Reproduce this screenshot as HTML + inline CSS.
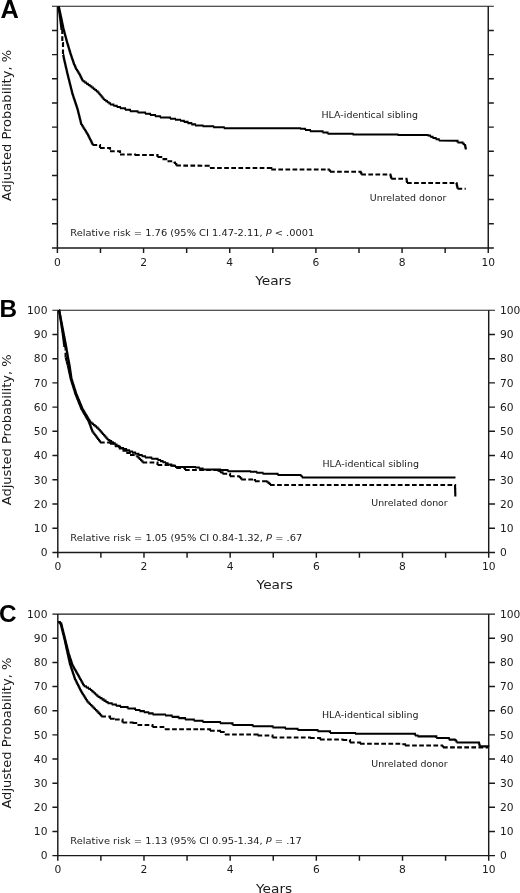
<!DOCTYPE html>
<html lang="en"><head><meta charset="utf-8"><title>Adjusted probability curves</title>
<style>html,body{margin:0;padding:0;background:#fff}body{width:520px;height:893px;overflow:hidden}svg{display:block}text{font-family:'DejaVu Sans','Liberation Sans',sans-serif;fill:#1a1a1a}.t{font-size:10.3px}.a{font-size:9.5px}.y{font-size:12.3px}.L{font-family:'Liberation Sans',sans-serif;font-weight:bold;font-size:24.3px;fill:#000}.ax{stroke:#1a1a1a;stroke-width:1.45;fill:none}.c{stroke:#000;stroke-width:2.15;fill:none;stroke-linejoin:miter}.d{stroke-dasharray:4.7 2.4}</style></head><body>
<svg width="520" height="893" viewBox="0 0 520 893">
<rect width="520" height="893" fill="#fff"/>
<g><!-- panel A -->
<path class="ax" style="stroke-width:1.1" d="M52.00,6.30H493.85"/>
<path class="ax" d="M52.00,247.90H493.85M57.40,6.30V247.90M488.25,6.30V253.10M52.00,30.46H57.40M488.25,30.46H493.85M52.00,54.62H57.40M488.25,54.62H493.85M52.00,78.78H57.40M488.25,78.78H493.85M52.00,102.94H57.40M488.25,102.94H493.85M52.00,127.10H57.40M488.25,127.10H493.85M52.00,151.26H57.40M488.25,151.26H493.85M52.00,175.42H57.40M488.25,175.42H493.85M52.00,199.58H57.40M488.25,199.58H493.85M52.00,223.74H57.40M488.25,223.74H493.85M57.40,247.90V253.10M100.48,247.90V253.10M143.57,247.90V253.10M186.66,247.90V253.10M229.74,247.90V253.10M272.82,247.90V253.10M315.91,247.90V253.10M359.00,247.90V253.10M402.08,247.90V253.10M445.16,247.90V253.10"/>
<text class="t" transform="translate(57.4,265.6) scale(1.04,1)" text-anchor="middle">0</text>
<text class="t" transform="translate(143.6,265.6) scale(1.04,1)" text-anchor="middle">2</text>
<text class="t" transform="translate(229.7,265.6) scale(1.04,1)" text-anchor="middle">4</text>
<text class="t" transform="translate(315.9,265.6) scale(1.04,1)" text-anchor="middle">6</text>
<text class="t" transform="translate(402.1,265.6) scale(1.04,1)" text-anchor="middle">8</text>
<text class="t" transform="translate(488.2,265.6) scale(1.04,1)" text-anchor="middle">10</text>
<text class="y" transform="translate(10.7,200.9) rotate(-90)" textLength="151" lengthAdjust="spacingAndGlyphs">Adjusted Probability, %</text>
<text class="y" x="255.2" y="284.8" textLength="36.2" lengthAdjust="spacingAndGlyphs">Years</text>
<text class="L" style="font-size:25.4px" x="0.6" y="17.9">A</text>
<path class="c d" d="M58.50,7.00h0.17v1.22M58.67,8.22h0.17v1.22M58.83,9.44h0.17v1.22M59.00,10.67h0.17v1.22M59.17,11.89h0.17v1.22M59.33,13.11h0.17v1.22M59.50,14.33h0.17v1.22M59.67,15.56h0.17v1.22M59.83,16.78h0.17v1.22M60.00,18.00h0.15v1.20M60.15,19.20h0.15v1.20M60.30,20.40h0.15v1.20M60.45,21.60h0.15v1.20M60.60,22.80h0.15v1.20M60.75,24.00h0.15v1.20M60.90,25.20h0.15v1.20M61.05,26.40h0.15v1.20M61.20,27.60h0.15v1.20M61.35,28.80h0.15v1.20M61.50,30.00h0.80v13.00M62.30,43.00h0.70v12.00M63.00,55.00h0.25v1.17M63.25,56.17h0.25v1.17M63.50,57.33h0.25v1.17M63.75,58.50h0.25v1.17M64.00,59.67h0.25v1.17M64.25,60.83h0.25v1.17M64.50,62.00h0.27v1.18M64.77,63.18h0.27v1.18M65.05,64.36h0.27v1.18M65.32,65.55h0.27v1.18M65.59,66.73h0.27v1.18M65.86,67.91h0.27v1.18M66.14,69.09h0.27v1.18M66.41,70.27h0.27v1.18M66.68,71.45h0.27v1.18M66.95,72.64h0.27v1.18M67.23,73.82h0.27v1.18M67.50,75.00h0.31v1.25M67.81,76.25h0.31v1.25M68.12,77.50h0.31v1.25M68.44,78.75h0.31v1.25M68.75,80.00h0.31v1.25M69.06,81.25h0.31v1.25M69.38,82.50h0.31v1.25M69.69,83.75h0.31v1.25M70.00,85.00h0.31v1.25M70.31,86.25h0.31v1.25M70.62,87.50h0.31v1.25M70.94,88.75h0.31v1.25M71.25,90.00h0.31v1.25M71.56,91.25h0.31v1.25M71.88,92.50h0.31v1.25M72.19,93.75h0.31v1.25M72.50,95.00h0.42v1.25M72.92,96.25h0.42v1.25M73.33,97.50h0.42v1.25M73.75,98.75h0.42v1.25M74.17,100.00h0.42v1.25M74.58,101.25h0.42v1.25M75.00,102.50h0.42v1.25M75.42,103.75h0.42v1.25M75.83,105.00h0.42v1.25M76.25,106.25h0.42v1.25M76.67,107.50h0.42v1.25M77.08,108.75h0.42v1.25M77.50,110.00h0.31v1.25M77.81,111.25h0.31v1.25M78.12,112.50h0.31v1.25M78.44,113.75h0.31v1.25M78.75,115.00h0.31v1.25M79.06,116.25h0.31v1.25M79.38,117.50h0.31v1.25M79.69,118.75h0.31v1.25M80.00,120.00h0.31v1.25M80.31,121.25h0.31v1.25M80.62,122.50h0.31v1.25M80.94,123.75h0.31v1.25M81.25,125.00h0.78v1.25M82.03,126.25h0.78v1.25M82.81,127.50h0.78v1.25M83.59,128.75h0.78v1.25M84.38,130.00h0.78v1.25M85.16,131.25h0.78v1.25M85.94,132.50h0.78v1.25M86.72,133.75h0.78v1.25M87.50,135.00h0.62v1.25M88.12,136.25h0.62v1.25M88.75,137.50h0.62v1.25M89.38,138.75h0.62v1.25M90.00,140.00h0.62v1.25M90.62,141.25h0.62v1.25M91.25,142.50h0.62v1.25M91.88,143.75h0.62v1.25M92.50,145.00h7.50v3.00M100.00,148.00h10.00v3.25M110.00,151.25h10.00v3.25M120.00,154.50h15.00v0.50M135.00,155.00h22.50v2.00M157.50,157.00h5.00v2.12M162.50,159.12h5.00v2.12M167.50,161.25h6.25v1.25M173.75,162.50h1.25v1.50M175.00,164.00h1.25v1.50M176.25,165.50L205.00,165.75M205.00,165.75h5.00v2.25M210.00,168.00L267.50,168.00M267.50,168.00h3.75v1.50M271.25,169.50L327.50,169.50M327.50,169.50h1.25v1.12M328.75,170.62h1.25v1.12M330.00,171.75L360.00,171.75M360.00,171.75h0.62v1.38M360.62,173.12h0.62v1.38M361.25,174.50L390.00,174.50M390.00,174.50h0.31v1.06M390.31,175.56h0.31v1.06M390.62,176.62h0.31v1.06M390.94,177.69h0.31v1.06M391.25,178.75L406.25,178.75M406.25,178.75h0.19v1.06M406.44,179.81h0.19v1.06M406.62,180.88h0.19v1.06M406.81,181.94h0.19v1.06M407.00,183.00L456.25,183.00M456.25,183.00h0.25v1.15M456.50,184.15h0.25v1.15M456.75,185.30h0.25v1.15M457.00,186.45h0.25v1.15M457.25,187.60h0.25v1.15M457.50,188.75L465.75,188.75"/>
<path class="c" d="M58.50,7.00h0.28v1.22M58.78,8.22h0.28v1.22M59.06,9.44h0.28v1.22M59.33,10.67h0.28v1.22M59.61,11.89h0.28v1.22M59.89,13.11h0.28v1.22M60.17,14.33h0.28v1.22M60.44,15.56h0.28v1.22M60.72,16.78h0.28v1.22M61.00,18.00h0.25v1.20M61.25,19.20h0.25v1.20M61.50,20.40h0.25v1.20M61.75,21.60h0.25v1.20M62.00,22.80h0.25v1.20M62.25,24.00h0.25v1.20M62.50,25.20h0.25v1.20M62.75,26.40h0.25v1.20M63.00,27.60h0.25v1.20M63.25,28.80h0.25v1.20M63.50,30.00h0.32v1.18M63.82,31.18h0.32v1.18M64.14,32.36h0.32v1.18M64.45,33.55h0.32v1.18M64.77,34.73h0.32v1.18M65.09,35.91h0.32v1.18M65.41,37.09h0.32v1.18M65.73,38.27h0.32v1.18M66.05,39.45h0.32v1.18M66.36,40.64h0.32v1.18M66.68,41.82h0.32v1.18M67.00,43.00h0.36v1.20M67.36,44.20h0.36v1.20M67.72,45.40h0.36v1.20M68.08,46.60h0.36v1.20M68.44,47.80h0.36v1.20M68.80,49.00h0.36v1.20M69.16,50.20h0.36v1.20M69.52,51.40h0.36v1.20M69.88,52.60h0.36v1.20M70.24,53.80h0.36v1.20M70.60,55.00h0.43v1.25M71.02,56.25h0.43v1.25M71.45,57.50h0.43v1.25M71.88,58.75h0.43v1.25M72.30,60.00h0.43v1.25M72.72,61.25h0.43v1.25M73.15,62.50h0.43v1.25M73.58,63.75h0.43v1.25M74.00,65.00h0.56v1.25M74.56,66.25h0.56v1.25M75.12,67.50h0.56v1.25M75.69,68.75h0.56v1.25M76.25,70.00h0.79v1.25M77.04,71.25h0.79v1.25M77.83,72.50h0.79v1.25M78.61,73.75h0.79v1.25M79.40,75.00h0.62v1.25M80.02,76.25h0.62v1.25M80.64,77.50h0.62v1.25M81.26,78.75h0.62v1.25M81.88,80.00h0.62v1.25M82.50,81.25h1.75v1.25M84.25,82.50h1.75v1.25M86.00,83.75h1.75v1.25M87.75,85.00h1.75v1.25M89.50,86.25h1.75v1.25M91.25,87.50h1.56v1.25M92.81,88.75h1.56v1.25M94.38,90.00h1.56v1.25M95.94,91.25h1.56v1.25M97.50,92.50h1.04v1.25M98.54,93.75h1.04v1.25M99.58,95.00h1.04v1.25M100.62,96.25h1.04v1.25M101.67,97.50h1.04v1.25M102.71,98.75h1.04v1.25M103.75,100.00h1.56v1.12M105.31,101.12h1.56v1.12M106.88,102.25h1.56v1.12M108.44,103.38h1.56v1.12M110.00,104.50h3.33v1.25M113.33,105.75h3.33v1.25M116.67,107.00h3.33v1.25M120.00,108.25h5.00v1.50M125.00,109.75h5.00v1.50M130.00,111.25h7.50v1.25M137.50,112.50h7.50v1.25M145.00,113.75h5.00v1.25M150.00,115.00h5.00v1.25M155.00,116.25h5.00v1.25M160.00,117.50h10.00v1.25M170.00,118.75h5.00v1.00M175.00,119.75h5.00v1.00M180.00,120.75h3.75v1.19M183.75,121.94h3.75v1.19M187.50,123.12h3.75v1.19M191.25,124.31h3.75v1.19M195.00,125.50h7.50v0.75M202.50,126.25h10.62v1.00M213.12,127.25h10.62v1.00M223.75,128.25h76.25v0.50M300.00,128.75h5.00v1.25M305.00,130.00h5.00v1.25M310.00,131.25h12.50v1.25M322.50,132.50h5.00v1.25M327.50,133.75h25.00v0.75M352.50,134.50h45.00v0.50M397.50,135.00h30.00v0.50M427.50,135.50h2.50v1.25M430.00,136.75h2.50v1.25M432.50,138.00h3.12v1.25M435.62,139.25h3.12v1.25M438.75,140.50L455.00,140.75M455.00,140.75h2.50v1.75M457.50,142.50h5.00v1.25M462.50,143.75h1.25v1.25M463.75,145.00h1.25v1.25M465.00,146.25h0.25v1.08M465.25,147.33h0.25v1.08M465.50,148.42h0.25v1.08"/>
<text class="a" x="70.3" y="236.3" textLength="244" lengthAdjust="spacingAndGlyphs" xml:space="preserve">Relative risk = 1.76 (95% CI 1.47-2.11, <tspan font-style="italic">P</tspan> &lt; .0001</text>
<text class="a" x="321.5" y="117.5" textLength="96.5" lengthAdjust="spacingAndGlyphs">HLA-identical sibling</text>
<text class="a" x="369.8" y="201" textLength="76.5" lengthAdjust="spacingAndGlyphs">Unrelated donor</text>
</g>
<g><!-- panel B -->
<path class="ax" style="stroke-width:1.1" d="M52.40,310.20H495.00"/>
<path class="ax" d="M52.40,552.45H495.00M57.80,310.20V552.45M488.70,310.20V557.65M52.40,334.43H57.80M488.70,334.43H495.00M52.40,358.65H57.80M488.70,358.65H495.00M52.40,382.88H57.80M488.70,382.88H495.00M52.40,407.10H57.80M488.70,407.10H495.00M52.40,431.33H57.80M488.70,431.33H495.00M52.40,455.55H57.80M488.70,455.55H495.00M52.40,479.78H57.80M488.70,479.78H495.00M52.40,504.00H57.80M488.70,504.00H495.00M52.40,528.23H57.80M488.70,528.23H495.00M57.80,552.45V557.65M100.89,552.45V557.65M143.98,552.45V557.65M187.07,552.45V557.65M230.16,552.45V557.65M273.25,552.45V557.65M316.34,552.45V557.65M359.43,552.45V557.65M402.52,552.45V557.65M445.61,552.45V557.65"/>
<text class="t" transform="translate(57.8,570.2) scale(1.04,1)" text-anchor="middle">0</text>
<text class="t" transform="translate(144.0,570.2) scale(1.04,1)" text-anchor="middle">2</text>
<text class="t" transform="translate(230.2,570.2) scale(1.04,1)" text-anchor="middle">4</text>
<text class="t" transform="translate(316.3,570.2) scale(1.04,1)" text-anchor="middle">6</text>
<text class="t" transform="translate(402.5,570.2) scale(1.04,1)" text-anchor="middle">8</text>
<text class="t" transform="translate(488.7,570.2) scale(1.04,1)" text-anchor="middle">10</text>
<text class="t" transform="translate(47.5,556.2) scale(1.04,1)" text-anchor="end">0</text>
<text class="t" transform="translate(499.9,556.2) scale(1.04,1)">0</text>
<text class="t" transform="translate(47.5,531.9) scale(1.04,1)" text-anchor="end">10</text>
<text class="t" transform="translate(499.9,531.9) scale(1.04,1)">10</text>
<text class="t" transform="translate(47.5,507.7) scale(1.04,1)" text-anchor="end">20</text>
<text class="t" transform="translate(499.9,507.7) scale(1.04,1)">20</text>
<text class="t" transform="translate(47.5,483.5) scale(1.04,1)" text-anchor="end">30</text>
<text class="t" transform="translate(499.9,483.5) scale(1.04,1)">30</text>
<text class="t" transform="translate(47.5,459.2) scale(1.04,1)" text-anchor="end">40</text>
<text class="t" transform="translate(499.9,459.2) scale(1.04,1)">40</text>
<text class="t" transform="translate(47.5,435.0) scale(1.04,1)" text-anchor="end">50</text>
<text class="t" transform="translate(499.9,435.0) scale(1.04,1)">50</text>
<text class="t" transform="translate(47.5,410.8) scale(1.04,1)" text-anchor="end">60</text>
<text class="t" transform="translate(499.9,410.8) scale(1.04,1)">60</text>
<text class="t" transform="translate(47.5,386.6) scale(1.04,1)" text-anchor="end">70</text>
<text class="t" transform="translate(499.9,386.6) scale(1.04,1)">70</text>
<text class="t" transform="translate(47.5,362.3) scale(1.04,1)" text-anchor="end">80</text>
<text class="t" transform="translate(499.9,362.3) scale(1.04,1)">80</text>
<text class="t" transform="translate(47.5,338.1) scale(1.04,1)" text-anchor="end">90</text>
<text class="t" transform="translate(499.9,338.1) scale(1.04,1)">90</text>
<text class="t" transform="translate(47.5,313.9) scale(1.04,1)" text-anchor="end">100</text>
<text class="t" transform="translate(499.9,313.9) scale(1.04,1)">100</text>
<text class="y" transform="translate(10.7,505.3) rotate(-90)" textLength="151" lengthAdjust="spacingAndGlyphs">Adjusted Probability, %</text>
<text class="y" x="256.6" y="589.4" textLength="36.2" lengthAdjust="spacingAndGlyphs">Years</text>
<text class="L" style="font-size:24.3px" x="-0.6" y="316.9">B</text>
<path class="c d" d="M59.00,310.50h0.18v1.15M59.18,311.65h0.18v1.15M59.36,312.80h0.18v1.15M59.54,313.95h0.18v1.15M59.72,315.10h0.18v1.15M59.90,316.25h0.18v1.15M60.08,317.40h0.18v1.15M60.26,318.55h0.18v1.15M60.44,319.70h0.18v1.15M60.62,320.85h0.18v1.15M60.80,322.00h0.18v1.18M60.98,323.18h0.18v1.18M61.16,324.36h0.18v1.18M61.35,325.55h0.18v1.18M61.53,326.73h0.18v1.18M61.71,327.91h0.18v1.18M61.89,329.09h0.18v1.18M62.07,330.27h0.18v1.18M62.25,331.45h0.18v1.18M62.44,332.64h0.18v1.18M62.62,333.82h0.18v1.18M62.80,335.00h0.15v1.20M62.95,336.20h0.15v1.20M63.10,337.40h0.15v1.20M63.25,338.60h0.15v1.20M63.40,339.80h0.15v1.20M63.55,341.00h0.15v1.20M63.70,342.20h0.15v1.20M63.85,343.40h0.15v1.20M64.00,344.60h0.15v1.20M64.15,345.80h0.15v1.20M64.30,347.00h1.30v11.00M65.60,358.00h0.30v1.12M65.90,359.12h0.30v1.12M66.20,360.25h0.30v1.12M66.50,361.38h0.30v1.12M66.80,362.50h0.30v1.12M67.10,363.62h0.30v1.12M67.40,364.75h0.30v1.12M67.70,365.88h0.30v1.12M68.00,367.00h0.25v1.18M68.25,368.18h0.25v1.18M68.51,369.36h0.25v1.18M68.76,370.55h0.25v1.18M69.02,371.73h0.25v1.18M69.27,372.91h0.25v1.18M69.53,374.09h0.25v1.18M69.78,375.27h0.25v1.18M70.04,376.45h0.25v1.18M70.29,377.64h0.25v1.18M70.55,378.82h0.25v1.18M70.80,380.00h0.39v1.25M71.19,381.25h0.39v1.25M71.58,382.50h0.39v1.25M71.97,383.75h0.39v1.25M72.37,385.00h0.39v1.25M72.76,386.25h0.39v1.25M73.15,387.50h0.39v1.25M73.54,388.75h0.39v1.25M73.93,390.00h0.39v1.25M74.33,391.25h0.39v1.25M74.72,392.50h0.39v1.25M75.11,393.75h0.39v1.25M75.50,395.00h0.50v1.25M76.00,396.25h0.50v1.25M76.50,397.50h0.50v1.25M77.00,398.75h0.50v1.25M77.50,400.00h0.50v1.25M78.00,401.25h0.50v1.25M78.50,402.50h0.50v1.25M79.00,403.75h0.50v1.25M79.50,405.00h0.50v1.25M80.00,406.25h0.50v1.25M80.50,407.50h0.50v1.25M81.00,408.75h0.50v1.25M81.50,410.00h0.72v1.25M82.22,411.25h0.72v1.25M82.95,412.50h0.72v1.25M83.67,413.75h0.72v1.25M84.40,415.00h0.72v1.25M85.12,416.25h0.72v1.25M85.85,417.50h0.72v1.25M86.58,418.75h0.72v1.25M87.30,420.00h0.72v1.25M88.03,421.25h0.72v1.25M88.75,422.50h0.47v1.25M89.22,423.75h0.47v1.25M89.69,425.00h0.47v1.25M90.16,426.25h0.47v1.25M90.62,427.50h0.47v1.25M91.09,428.75h0.47v1.25M91.56,430.00h0.47v1.25M92.03,431.25h0.47v1.25M92.50,432.50h0.94v1.25M93.44,433.75h0.94v1.25M94.38,435.00h0.94v1.25M95.31,436.25h0.94v1.25M96.25,437.50h0.94v1.25M97.19,438.75h0.94v1.25M98.12,440.00h0.94v1.25M99.06,441.25h0.94v1.25M100.00,442.50h10.00v1.25M110.00,443.75h5.00v2.50M115.00,446.25h3.75v2.19M118.75,448.44h3.75v2.19M122.50,450.62h3.75v2.19M126.25,452.81h3.75v2.19M130.00,455.00h6.25v1.25M136.25,456.25h1.25v1.25M137.50,457.50h1.25v1.25M138.75,458.75h1.25v1.25M140.00,460.00h1.25v1.25M141.25,461.25h1.25v1.25M142.50,462.50h15.00v2.50M157.50,465.00h12.50v0.50M170.00,465.50h6.25v2.50M176.25,468.00h8.75v2.00M185.00,470.00h32.50v0.75M217.50,470.75h2.50v1.50M220.00,472.25h2.50v1.50M222.50,473.75h7.50v2.50M230.00,476.25h8.75v0.75M238.75,477.00h1.25v1.25M240.00,478.25h1.25v1.25M241.25,479.50h12.50v0.50M253.75,480.00h1.25v1.25M255.00,481.25h11.25v0.50M266.25,481.75h1.25v1.08M267.50,482.83h1.25v1.08M268.75,483.92h1.25v1.08M270.00,485.00L455.00,485.00M455.00,485.00h0.10v4.00M455.10,489.00h0.10v4.00M455.20,493.00h0.10v3.50"/>
<path class="c" d="M59.00,310.50h0.22v1.15M59.22,311.65h0.22v1.15M59.44,312.80h0.22v1.15M59.66,313.95h0.22v1.15M59.88,315.10h0.22v1.15M60.10,316.25h0.22v1.15M60.32,317.40h0.22v1.15M60.54,318.55h0.22v1.15M60.76,319.70h0.22v1.15M60.98,320.85h0.22v1.15M61.20,322.00h0.23v1.18M61.43,323.18h0.23v1.18M61.65,324.36h0.23v1.18M61.88,325.55h0.23v1.18M62.11,326.73h0.23v1.18M62.34,327.91h0.23v1.18M62.56,329.09h0.23v1.18M62.79,330.27h0.23v1.18M63.02,331.45h0.23v1.18M63.25,332.64h0.23v1.18M63.47,333.82h0.23v1.18M63.70,335.00h0.23v1.20M63.93,336.20h0.23v1.20M64.16,337.40h0.23v1.20M64.39,338.60h0.23v1.20M64.62,339.80h0.23v1.20M64.85,341.00h0.23v1.20M65.08,342.20h0.23v1.20M65.31,343.40h0.23v1.20M65.54,344.60h0.23v1.20M65.77,345.80h0.23v1.20M66.00,347.00h0.20v1.18M66.20,348.18h0.20v1.18M66.40,349.35h0.20v1.18M66.60,350.52h0.20v1.18M66.80,351.70h0.20v1.18M67.00,352.88h0.20v1.18M67.20,354.05h0.20v1.18M67.40,355.23h0.20v1.18M67.60,356.40h0.20v1.18M67.80,357.57h0.20v1.18M68.00,358.75h0.23v1.18M68.23,359.93h0.23v1.18M68.46,361.11h0.23v1.18M68.69,362.29h0.23v1.18M68.91,363.46h0.23v1.18M69.14,364.64h0.23v1.18M69.37,365.82h0.23v1.18M69.60,367.00h0.17v1.18M69.77,368.18h0.17v1.18M69.95,369.36h0.17v1.18M70.12,370.55h0.17v1.18M70.29,371.73h0.17v1.18M70.46,372.91h0.17v1.18M70.64,374.09h0.17v1.18M70.81,375.27h0.17v1.18M70.98,376.45h0.17v1.18M71.15,377.64h0.17v1.18M71.33,378.82h0.17v1.18M71.50,380.00h0.40v1.25M71.90,381.25h0.40v1.25M72.29,382.50h0.40v1.25M72.69,383.75h0.40v1.25M73.08,385.00h0.40v1.25M73.48,386.25h0.40v1.25M73.88,387.50h0.40v1.25M74.27,388.75h0.40v1.25M74.67,390.00h0.40v1.25M75.06,391.25h0.40v1.25M75.46,392.50h0.40v1.25M75.85,393.75h0.40v1.25M76.25,395.00h0.52v1.25M76.77,396.25h0.52v1.25M77.29,397.50h0.52v1.25M77.81,398.75h0.52v1.25M78.33,400.00h0.52v1.25M78.85,401.25h0.52v1.25M79.38,402.50h0.52v1.25M79.90,403.75h0.52v1.25M80.42,405.00h0.52v1.25M80.94,406.25h0.52v1.25M81.46,407.50h0.52v1.25M81.98,408.75h0.52v1.25M82.50,410.00h0.75v1.25M83.25,411.25h0.75v1.25M84.00,412.50h0.75v1.25M84.75,413.75h0.75v1.25M85.50,415.00h0.75v1.25M86.25,416.25h0.75v1.25M87.00,417.50h0.75v1.25M87.75,418.75h0.75v1.25M88.50,420.00h0.75v1.25M89.25,421.25h0.75v1.25M90.00,422.50h1.50v1.25M91.50,423.75h1.50v1.25M93.00,425.00h1.50v1.25M94.50,426.25h1.50v1.25M96.00,427.50h1.50v1.25M97.50,428.75h1.11v1.25M98.61,430.00h1.11v1.25M99.72,431.25h1.11v1.25M100.83,432.50h1.11v1.25M101.94,433.75h1.11v1.25M103.06,435.00h1.11v1.25M104.17,436.25h1.11v1.25M105.28,437.50h1.11v1.25M106.39,438.75h1.11v1.25M107.50,440.00h1.79v1.14M109.29,441.14h1.79v1.14M111.07,442.29h1.79v1.14M112.86,443.43h1.79v1.14M114.64,444.57h1.79v1.14M116.43,445.71h1.79v1.14M118.21,446.86h1.79v1.14M120.00,448.00h3.00v1.15M123.00,449.15h3.00v1.15M126.00,450.30h3.00v1.15M129.00,451.45h3.00v1.15M132.00,452.60h3.00v1.15M135.00,453.75h3.33v1.25M138.33,455.00h3.33v1.25M141.67,456.25h3.33v1.25M145.00,457.50h6.25v1.25M151.25,458.75h6.25v1.25M157.50,460.00h2.50v1.12M160.00,461.12h2.50v1.12M162.50,462.25h2.50v1.12M165.00,463.38h2.50v1.12M167.50,464.50h3.75v1.25M171.25,465.75h3.75v1.25M175.00,467.00h20.00v0.50M195.00,467.50h3.75v1.00M198.75,468.50h3.75v1.00M202.50,469.50h17.50v0.50M220.00,470.00h7.50v1.25M227.50,471.25h22.50v0.50M250.00,471.75h6.25v1.00M256.25,472.75h6.25v1.00M262.50,473.75h15.00v1.25M277.50,475.00h22.50v0.50M300.00,475.50h1.00v1.00M301.00,476.50h1.00v1.00M302.00,477.50L455.50,477.50"/>
<text class="a" x="70.3" y="541.3" textLength="232" lengthAdjust="spacingAndGlyphs" xml:space="preserve">Relative risk = 1.05 (95% CI 0.84-1.32, <tspan font-style="italic">P</tspan> = .67</text>
<text class="a" x="322.5" y="467" textLength="96.5" lengthAdjust="spacingAndGlyphs">HLA-identical sibling</text>
<text class="a" x="371.25" y="505.75" textLength="76.5" lengthAdjust="spacingAndGlyphs">Unrelated donor</text>
</g>
<g><!-- panel C -->
<path class="ax" style="stroke-width:1.1" d="M52.40,614.10H495.00"/>
<path class="ax" d="M52.40,855.60H495.00M57.80,614.10V855.60M488.70,614.10V860.80M52.40,638.25H57.80M488.70,638.25H495.00M52.40,662.40H57.80M488.70,662.40H495.00M52.40,686.55H57.80M488.70,686.55H495.00M52.40,710.70H57.80M488.70,710.70H495.00M52.40,734.85H57.80M488.70,734.85H495.00M52.40,759.00H57.80M488.70,759.00H495.00M52.40,783.15H57.80M488.70,783.15H495.00M52.40,807.30H57.80M488.70,807.30H495.00M52.40,831.45H57.80M488.70,831.45H495.00M57.80,855.60V860.80M100.89,855.60V860.80M143.98,855.60V860.80M187.07,855.60V860.80M230.16,855.60V860.80M273.25,855.60V860.80M316.34,855.60V860.80M359.43,855.60V860.80M402.52,855.60V860.80M445.61,855.60V860.80"/>
<text class="t" transform="translate(57.8,873.3) scale(1.04,1)" text-anchor="middle">0</text>
<text class="t" transform="translate(144.0,873.3) scale(1.04,1)" text-anchor="middle">2</text>
<text class="t" transform="translate(230.2,873.3) scale(1.04,1)" text-anchor="middle">4</text>
<text class="t" transform="translate(316.3,873.3) scale(1.04,1)" text-anchor="middle">6</text>
<text class="t" transform="translate(402.5,873.3) scale(1.04,1)" text-anchor="middle">8</text>
<text class="t" transform="translate(488.7,873.3) scale(1.04,1)" text-anchor="middle">10</text>
<text class="t" transform="translate(47.5,859.3) scale(1.04,1)" text-anchor="end">0</text>
<text class="t" transform="translate(499.9,859.3) scale(1.04,1)">0</text>
<text class="t" transform="translate(47.5,835.2) scale(1.04,1)" text-anchor="end">10</text>
<text class="t" transform="translate(499.9,835.2) scale(1.04,1)">10</text>
<text class="t" transform="translate(47.5,811.0) scale(1.04,1)" text-anchor="end">20</text>
<text class="t" transform="translate(499.9,811.0) scale(1.04,1)">20</text>
<text class="t" transform="translate(47.5,786.9) scale(1.04,1)" text-anchor="end">30</text>
<text class="t" transform="translate(499.9,786.9) scale(1.04,1)">30</text>
<text class="t" transform="translate(47.5,762.7) scale(1.04,1)" text-anchor="end">40</text>
<text class="t" transform="translate(499.9,762.7) scale(1.04,1)">40</text>
<text class="t" transform="translate(47.5,738.6) scale(1.04,1)" text-anchor="end">50</text>
<text class="t" transform="translate(499.9,738.6) scale(1.04,1)">50</text>
<text class="t" transform="translate(47.5,714.4) scale(1.04,1)" text-anchor="end">60</text>
<text class="t" transform="translate(499.9,714.4) scale(1.04,1)">60</text>
<text class="t" transform="translate(47.5,690.2) scale(1.04,1)" text-anchor="end">70</text>
<text class="t" transform="translate(499.9,690.2) scale(1.04,1)">70</text>
<text class="t" transform="translate(47.5,666.1) scale(1.04,1)" text-anchor="end">80</text>
<text class="t" transform="translate(499.9,666.1) scale(1.04,1)">80</text>
<text class="t" transform="translate(47.5,642.0) scale(1.04,1)" text-anchor="end">90</text>
<text class="t" transform="translate(499.9,642.0) scale(1.04,1)">90</text>
<text class="t" transform="translate(47.5,617.8) scale(1.04,1)" text-anchor="end">100</text>
<text class="t" transform="translate(499.9,617.8) scale(1.04,1)">100</text>
<text class="y" transform="translate(10.7,808.6) rotate(-90)" textLength="151" lengthAdjust="spacingAndGlyphs">Adjusted Probability, %</text>
<text class="y" x="256" y="892.5" textLength="36.2" lengthAdjust="spacingAndGlyphs">Years</text>
<text class="L" style="font-size:24.3px" x="-1.0" y="621.7">C</text>
<path class="c d" d="M58.20,622.00h1.27v1.50M59.48,623.50h1.27v1.50M60.75,625.00h0.31v1.25M61.06,626.25h0.31v1.25M61.38,627.50h0.31v1.25M61.69,628.75h0.31v1.25M62.00,630.00h0.31v1.25M62.31,631.25h0.31v1.25M62.62,632.50h0.31v1.25M62.94,633.75h0.31v1.25M63.25,635.00h0.31v1.25M63.56,636.25h0.31v1.25M63.88,637.50h0.31v1.25M64.19,638.75h0.31v1.25M64.50,640.00h0.27v1.25M64.77,641.25h0.27v1.25M65.04,642.50h0.27v1.25M65.31,643.75h0.27v1.25M65.58,645.00h0.27v1.25M65.85,646.25h0.27v1.25M66.12,647.50h0.27v1.25M66.40,648.75h0.27v1.25M66.67,650.00h0.27v1.25M66.94,651.25h0.27v1.25M67.21,652.50h0.27v1.25M67.48,653.75h0.27v1.25M67.75,655.00h0.28v1.25M68.03,656.25h0.28v1.25M68.31,657.50h0.28v1.25M68.59,658.75h0.28v1.25M68.88,660.00h0.28v1.25M69.16,661.25h0.28v1.25M69.44,662.50h0.28v1.25M69.72,663.75h0.28v1.25M70.00,665.00h0.42v1.25M70.42,666.25h0.42v1.25M70.83,667.50h0.42v1.25M71.25,668.75h0.42v1.25M71.67,670.00h0.42v1.25M72.08,671.25h0.42v1.25M72.50,672.50h0.42v1.25M72.92,673.75h0.42v1.25M73.33,675.00h0.42v1.25M73.75,676.25h0.42v1.25M74.17,677.50h0.42v1.25M74.58,678.75h0.42v1.25M75.00,680.00h0.62v1.25M75.62,681.25h0.62v1.25M76.25,682.50h0.62v1.25M76.88,683.75h0.62v1.25M77.50,685.00h0.62v1.25M78.12,686.25h0.62v1.25M78.75,687.50h0.62v1.25M79.38,688.75h0.62v1.25M80.00,690.00h0.62v1.25M80.62,691.25h0.62v1.25M81.25,692.50h0.78v1.25M82.03,693.75h0.78v1.25M82.81,695.00h0.78v1.25M83.59,696.25h0.78v1.25M84.38,697.50h0.78v1.25M85.16,698.75h0.78v1.25M85.94,700.00h0.78v1.25M86.72,701.25h0.78v1.25M87.50,702.50h1.25v1.25M88.75,703.75h1.25v1.25M90.00,705.00h1.25v1.25M91.25,706.25h1.25v1.25M92.50,707.50h1.25v1.25M93.75,708.75h1.25v1.25M95.00,710.00h1.25v1.30M96.25,711.30h1.25v1.30M97.50,712.60h1.25v1.30M98.75,713.90h1.25v1.30M100.00,715.20h1.25v1.30M101.25,716.50h8.75v2.25M110.00,718.75h5.00v0.75M115.00,719.50h7.50v3.00M122.50,722.50h10.00v0.50M132.50,723.00h5.00v2.00M137.50,725.00h15.00v2.00M152.50,727.00h12.50v2.25M165.00,729.25L200.00,729.25M200.00,729.25h10.00v1.50M210.00,730.75h10.00v1.25M220.00,732.00h5.00v2.50M225.00,734.50h32.50v1.00M257.50,735.50h15.00v2.00M272.50,737.50h37.50v0.50M310.00,738.00h10.00v1.50M320.00,739.50h22.50v0.50M342.50,740.00h7.50v2.50M350.00,742.50h10.00v1.25M360.00,743.75h42.50v0.50M402.50,744.25h2.50v1.25M405.00,745.50L441.00,745.50M441.00,745.50h1.00v0.95M442.00,746.45h1.00v0.95M443.00,747.40L488.30,747.40"/>
<path class="c" d="M58.20,622.00h1.52v1.50M59.73,623.50h1.52v1.50M61.25,625.00h0.31v1.25M61.56,626.25h0.31v1.25M61.88,627.50h0.31v1.25M62.19,628.75h0.31v1.25M62.50,630.00h0.31v1.25M62.81,631.25h0.31v1.25M63.12,632.50h0.31v1.25M63.44,633.75h0.31v1.25M63.75,635.00h0.31v1.25M64.06,636.25h0.31v1.25M64.38,637.50h0.31v1.25M64.69,638.75h0.31v1.25M65.00,640.00h0.31v1.25M65.31,641.25h0.31v1.25M65.62,642.50h0.31v1.25M65.94,643.75h0.31v1.25M66.25,645.00h0.31v1.25M66.56,646.25h0.31v1.25M66.88,647.50h0.31v1.25M67.19,648.75h0.31v1.25M67.50,650.00h0.31v1.25M67.81,651.25h0.31v1.25M68.12,652.50h0.31v1.25M68.44,653.75h0.31v1.25M68.75,655.00h0.42v1.25M69.17,656.25h0.42v1.25M69.58,657.50h0.42v1.25M70.00,658.75h0.42v1.25M70.42,660.00h0.42v1.25M70.83,661.25h0.42v1.25M71.25,662.50h0.42v1.25M71.67,663.75h0.42v1.25M72.08,665.00h0.42v1.25M72.50,666.25h0.71v1.25M73.21,667.50h0.71v1.25M73.93,668.75h0.71v1.25M74.64,670.00h0.71v1.25M75.36,671.25h0.71v1.25M76.07,672.50h0.71v1.25M76.79,673.75h0.71v1.25M77.50,675.00h0.69v1.25M78.19,676.25h0.69v1.25M78.89,677.50h0.69v1.25M79.58,678.75h0.69v1.25M80.28,680.00h0.69v1.25M80.97,681.25h0.69v1.25M81.67,682.50h0.69v1.25M82.36,683.75h0.69v1.25M83.06,685.00h0.69v1.25M83.75,686.25h2.08v1.25M85.83,687.50h2.08v1.25M87.92,688.75h2.08v1.25M90.00,690.00h1.25v1.12M91.25,691.12h1.25v1.12M92.50,692.25h1.25v1.12M93.75,693.38h1.25v1.12M95.00,694.50h1.25v1.12M96.25,695.62h1.25v1.12M97.50,696.75h2.00v1.30M99.50,698.05h2.00v1.30M101.50,699.35h2.00v1.30M103.50,700.65h2.00v1.30M105.50,701.95h2.00v1.30M107.50,703.25h4.17v1.25M111.67,704.50h4.17v1.25M115.83,705.75h4.17v1.25M120.00,707.00h7.50v1.50M127.50,708.50h7.50v1.50M135.00,710.00h4.38v1.12M139.38,711.12h4.38v1.12M143.75,712.25h4.38v1.12M148.12,713.38h4.38v1.12M152.50,714.50h12.50v1.00M165.00,715.50h6.67v1.33M171.67,716.83h6.67v1.33M178.33,718.17h6.67v1.33M185.00,719.50h8.75v1.25M193.75,720.75h8.75v1.25M202.50,722.00h17.50v1.25M220.00,723.25L227.50,723.25M227.50,723.25h5.00v1.75M232.50,725.00h20.00v1.25M252.50,726.25h20.00v1.25M272.50,727.50h12.50v1.25M285.00,728.75h12.50v1.25M297.50,730.00h20.00v1.25M317.50,731.25h12.50v1.75M330.00,733.00h25.00v0.75M355.00,733.75h60.00v1.75M415.00,735.50h2.50v0.80M417.50,736.30L434.40,736.30M434.40,736.30h1.90v1.70M436.30,738.00L447.00,738.00M447.00,738.00h1.80v1.60M448.80,739.60h5.80v0.40M454.60,740.00h0.95v1.25M455.55,741.25h0.95v1.25M456.50,742.50L478.60,742.50M478.60,742.50h0.33v1.27M478.93,743.77h0.33v1.27M479.27,745.03h0.33v1.27M479.60,746.30h8.70v0.40"/>
<text class="a" x="70.3" y="843.5" textLength="231.5" lengthAdjust="spacingAndGlyphs" xml:space="preserve">Relative risk = 1.13 (95% CI 0.95-1.34, <tspan font-style="italic">P</tspan> = .17</text>
<text class="a" x="322" y="718" textLength="96.5" lengthAdjust="spacingAndGlyphs">HLA-identical sibling</text>
<text class="a" x="371.25" y="767" textLength="76.5" lengthAdjust="spacingAndGlyphs">Unrelated donor</text>
</g>
</svg></body></html>
